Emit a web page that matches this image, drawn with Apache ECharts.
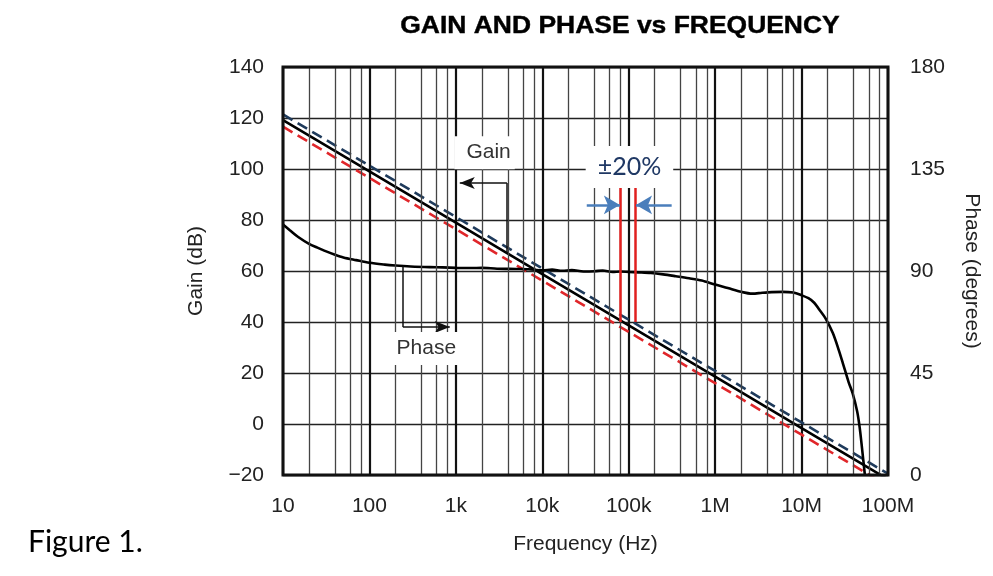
<!DOCTYPE html>
<html><head><meta charset="utf-8">
<script src="https://cdn.jsdelivr.net/npm/echarts@6/dist/echarts.min.js"></script>
<style>html,body{margin:0;padding:0;background:#fff}#c{width:993px;height:576px}</style>
</head><body><div id="c"></div>
<script>
// ---- data ----
const freqPts = [10, 100, 1e3, 1e4, 1e5, 1e6, 1e7, 1e8];
const gainNominal = [119.2, 99.1, 79.0, 58.8, 38.7, 18.6, -1.6, -21.7];
const gainPlus20 = [121.4, 101.3, 81.2, 61.0, 40.9, 20.8, 0.6, -19.5];
const gainMinus20 = [116.6, 96.5, 76.4, 56.2, 36.1, 16.0, -4.2, -24.3];

const phaseFreq = [10,12,15,20,25,30,40,50,70,100,150,200,300,500,700,1e3,1500,2e3,3e3,5e3,7e3,1e4,1.3e4,1.7e4,2.2e4,3e4,4e4,5e4,6.5e4,8e4,1e5,1.3e5,1.8e5,2.5e5,3.5e5,5e5,7e5,1e6,1.4e6,2e6,2.7e6,3.5e6,4.5e6,6e6,8e6,1e7,1.2e7,1.4e7,1.6e7,1.9e7,2.3e7,2.7e7,3e7,3.5e7,3.9e7,4.4e7,4.7e7,5e7,5.4e7];
const phaseDeg = [110.5,108,105,102,100.3,99,97.2,96,94.8,93.6,92.8,92.4,92,91.7,91.6,91.4,91.3,91.4,91,90.9,90.8,90.3,90.6,90.1,90.4,89.8,89.9,90.2,89.6,89.8,89.6,89.4,89.1,88.5,87.7,86.8,85.8,84,82.5,80.8,80,80.4,80.7,80.8,80.5,79.3,78,76,73,69,62.6,55,49.4,41,36,28,21,12,0];

const xTickValues = [10, 100, 1e3, 1e4, 1e5, 1e6, 1e7, 1e8];
const xTickLabels = ['10', '100', '1k', '10k', '100k', '1M', '10M', '100M'];
const minorGridFreqs = [20,40,60,80,200,400,600,800,2e3,4e3,6e3,8e3,2e4,4e4,6e4,8e4,2e5,4e5,6e5,8e5,2e6,4e6,6e6,8e6,2e7,4e7,6e7,8e7];

// annotations (data coordinates: frequency, gain dB)
const noteText = ['Gain', 'Phase', '±20%'];
const noteFreq = [2150, 420, 102000];
const noteGain = [106.4, 29.6, 100.8];
const gainArrow = [[3900, 67.2], [3900, 94.5], [1110, 94.5]];
const phaseArrow = [[244, 61.8], [244, 38.0], [850, 38.0]];
const tolFreq = [80000, 120000];
const tolGain = [40, 92.9];
const blueArrowGain = 85.9;
const blueArrowLeft = [32700, 79000];
const blueArrowRight = [314000, 121500];

// ---- chart ----
const zip = (a, b) => a.map((v, i) => [v, b[i]]);
const F = '"Liberation Sans", Arial, sans-serif';

const seg = (p, q, color, width, endSymbol, endSize) => [
  { coord: p, symbol: 'none', lineStyle: { color, width, type: 'solid' } },
  { coord: q, symbol: endSymbol || 'none', symbolSize: endSize || 0 }
];

const markData = [
  seg(gainArrow[0], gainArrow[1], '#111', 1.5),
  seg(gainArrow[1], gainArrow[2], '#111', 1.5, 'arrow', [9, 15]),
  seg(phaseArrow[0], phaseArrow[1], '#111', 1.5),
  seg(phaseArrow[1], phaseArrow[2], '#111', 1.5, 'arrow', [9, 15]),
  seg([tolFreq[0], tolGain[0]], [tolFreq[0], tolGain[1]], '#e0201f', 2.5),
  seg([tolFreq[1], tolGain[0]], [tolFreq[1], tolGain[1]], '#e0201f', 2.5),
  seg([blueArrowLeft[0], blueArrowGain], [blueArrowLeft[1], blueArrowGain], '#4a7ebb', 2.5, 'arrow', [14, 16]),
  seg([blueArrowRight[0], blueArrowGain], [blueArrowRight[1], blueArrowGain], '#4a7ebb', 2.5, 'arrow', [14, 16])
];

const noteStyles = [
  { fontFamily: F, fontSize: 21, color: '#333', lineHeight: 22, padding: [6, 4, 5, 12] },
  { fontFamily: F, fontSize: 21, color: '#333', lineHeight: 22, padding: [6, 4, 5, 10] },
  { fontFamily: 'Lato, sans-serif', fontSize: 25, color: '#1f3864', lineHeight: 26, padding: [8, 12, 8, 12] }
];

const chart = echarts.init(document.getElementById('c'), null, { renderer: 'canvas' });
chart.setOption({
  animation: false,
  backgroundColor: '#fff',
  grid: { left: 283, right: 105, top: 67, bottom: 101, show: true, borderColor: '#111', borderWidth: 3, backgroundColor: 'transparent', z: 10 },
  xAxis: {
    type: 'log', logBase: 10, min: 10, max: 1e8,
    axisLine: { show: false }, axisTick: { show: false },
    splitLine: { show: true, lineStyle: { color: '#111', width: 2.2 } },
    axisLabel: {
      fontFamily: F, fontSize: 21, color: '#222', margin: 21,
      formatter: v => xTickLabels[Math.round(Math.log10(v)) - 1]
    },
    name: 'Frequency (Hz)', nameLocation: 'middle', nameGap: 59,
    nameTextStyle: { fontFamily: F, fontSize: 21, color: '#222' }
  },
  yAxis: [
    {
      type: 'value', min: -20, max: 140, interval: 20,
      axisLine: { show: false }, axisTick: { show: false },
      splitLine: { show: true, lineStyle: { color: '#222', width: 1.4 } },
      axisLabel: { fontFamily: F, fontSize: 21, color: '#222', margin: 19,
        formatter: v => (v < 0 ? '\u2212' + Math.abs(v) : String(v)) },
      name: 'Gain (dB)', nameLocation: 'middle', nameGap: 76,
      nameTextStyle: { fontFamily: F, fontSize: 21, color: '#222' }
    },
    {
      type: 'value', min: 0, max: 180, interval: 45, position: 'right',
      axisLine: { show: false }, axisTick: { show: false }, splitLine: { show: false },
      axisLabel: { fontFamily: F, fontSize: 21, color: '#222', margin: 22 },
      name: 'Phase (degrees)', nameLocation: 'middle', nameGap: 73, nameRotate: -90,
      nameTextStyle: { fontFamily: F, fontSize: 21, color: '#222' }
    }
  ],
  series: [
    {
      name: 'minor grid', type: 'line', data: [[10, -100]], showSymbol: false, silent: true, z: 1,
      lineStyle: { width: 0 },
      markLine: {
        silent: true, symbol: ['none', 'none'], animation: false,
        label: { show: false },
        lineStyle: { color: '#444', width: 1.3, type: 'solid' },
        data: minorGridFreqs.map(v => ({ xAxis: v }))
      }
    },
    {
      name: 'Gain +20%', type: 'line', data: zip(freqPts, gainPlus20), showSymbol: false, z: 3,
      lineStyle: { color: '#1f3b5c', width: 2.6, type: [11, 6] }
    },
    {
      name: 'Gain -20%', type: 'line', data: zip(freqPts, gainMinus20), showSymbol: false, z: 3,
      lineStyle: { color: '#e0262a', width: 2.6, type: [11, 6] }
    },
    {
      name: 'Gain', type: 'line', data: zip(freqPts, gainNominal), showSymbol: false, z: 4,
      lineStyle: { color: '#000', width: 2.6 }
    },
    {
      name: 'Phase', type: 'line', yAxisIndex: 1, data: zip(phaseFreq, phaseDeg), showSymbol: false, z: 4,
      smooth: 0.3, lineStyle: { color: '#000', width: 2.6 }
    },
    {
      name: 'notes', type: 'scatter', z: 6, silent: true, symbolSize: 1,
      itemStyle: { color: 'rgba(0,0,0,0)', opacity: 1 },
      data: noteText.map((t, i) => ({
        value: [noteFreq[i], noteGain[i]],
        label: Object.assign({ show: true, position: 'inside', formatter: t, backgroundColor: '#fff', opacity: 1 }, noteStyles[i])
      })),
      markLine: {
        silent: true, animation: false, symbol: ['none', 'none'],
        label: { show: false }, data: markData
      }
    }
  ],
  graphic: [
    {
      type: 'text', x: 620, y: 27, scaleX: 1.15,
      style: { text: 'GAIN AND PHASE vs FREQUENCY', font: 'bold 23px ' + F, fill: '#000', stroke: '#000', lineWidth: 0.4, textAlign: 'center', textVerticalAlign: 'middle' }
    },
    {
      type: 'text', left: 28, top: 527,
      style: { text: 'Figure 1.', font: '30px Lato, sans-serif', fill: '#000' }
    }
  ]
});
</script></body></html>
